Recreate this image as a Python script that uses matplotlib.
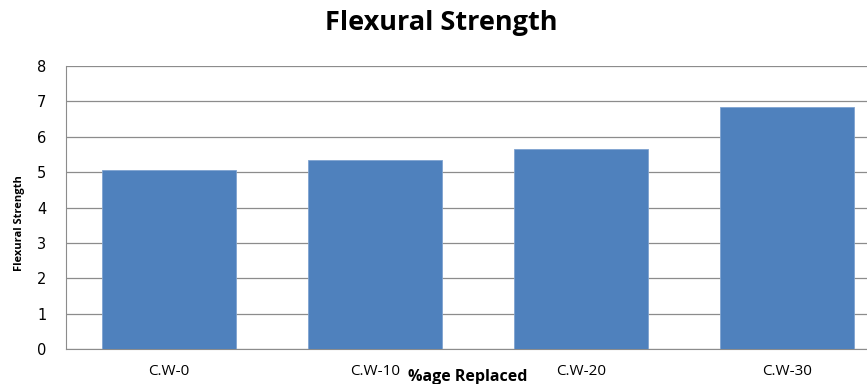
import matplotlib.pyplot as plt
import numpy as np

categories = ["C.W-0", "C.W-10", "C.W-20", "C.W-30"]
strength = [5.06, 5.33, 5.65, 6.84]

fig = plt.figure(figsize=(8.67, 3.84), dpi=100)
ax = fig.add_axes([0.0761, 0.0911, 0.9504, 0.737])

x = np.arange(len(categories))
ax.bar(x, strength, width=0.65, color="#4F81BD", edgecolor="#7FA3D0",
       linewidth=0.6, zorder=3)

ax.set_xlim(-0.5, len(categories) - 0.5)
ax.set_ylim(0, 8)
ax.set_yticks(range(0, 9))
ax.set_xticks(x)
ax.set_xticklabels(categories, fontfamily="Open Sans", fontsize=11)
ax.tick_params(axis="y", labelsize=10.5, length=0, pad=14)
ax.tick_params(axis="x", length=0, pad=11)

ax.grid(axis="y", color="#8c8c8c", linewidth=0.9, zorder=0)
for side in ["top", "right"]:
    ax.spines[side].set_visible(False)
ax.spines["left"].set_color("#8c8c8c")
ax.spines["bottom"].set_color("#8c8c8c")

fig.text(0.509, 0.94, "Flexural Strength", ha="center", va="center",
         fontsize=19.5, fontweight="bold", fontfamily="Open Sans")
fig.text(0.539, 0.018, "%age Replaced", ha="center", va="center",
         fontsize=11.5, fontweight="bold", fontfamily="Open Sans")
fig.text(0.022, 0.42, "Flexural Strength", ha="center", va="center",
         rotation=90, fontsize=8, fontweight="bold", fontfamily="Open Sans")

fig.savefig("out.png", dpi=100)
